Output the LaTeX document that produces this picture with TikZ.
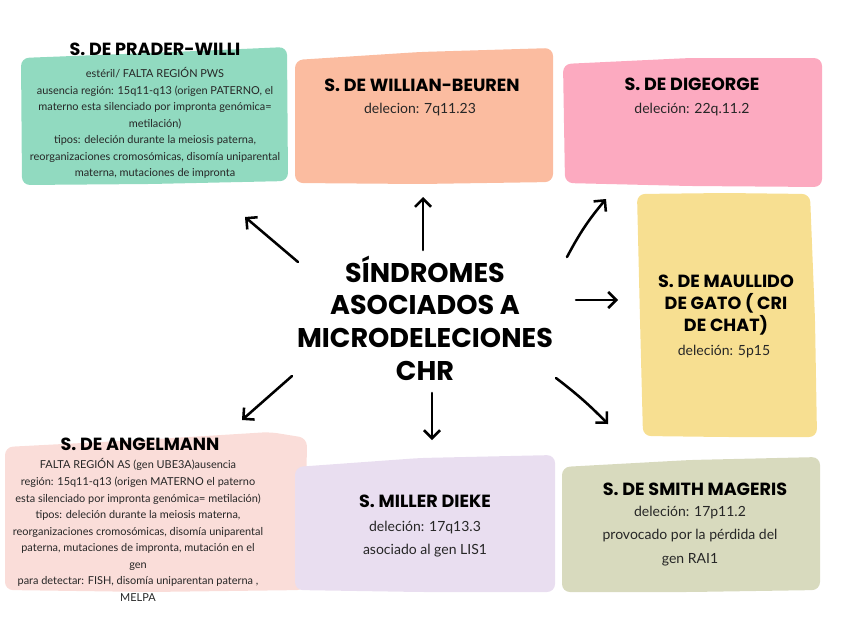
\documentclass[tikz,border=0pt]{standalone}
\usepackage{fontspec}
\setmainfont{Lato}
\newfontfamily\headfont{Poppins}
\usetikzlibrary{arrows.meta, positioning}
\definecolor{cmint}{RGB}{145,218,192}
\definecolor{csalmon}{RGB}{251,188,160}
\definecolor{cpink}{RGB}{252,170,192}
\definecolor{cyellow}{RGB}{247,223,145}
\definecolor{crose}{RGB}{250,221,217}
\definecolor{clilac}{RGB}{233,222,240}
\definecolor{csage}{RGB}{216,218,190}

\begin{document}
\begin{tikzpicture}[
    x=0.75pt, y=-0.75pt,
    >={Straight Barb[length=6pt,width=12pt]},
    blob/.style={fill=#1, draw=none, rounded corners=6pt},
    ttl/.style={font=\headfont\bfseries\fontsize{13.2}{16.2}\selectfont, align=center, text=black},
    hub/.style={font=\headfont\bfseries\fontsize{20.3}{24.5}\selectfont, align=center, text=black},
    small/.style={font=\fontsize{8.2}{12.4}\selectfont, align=center, text=black!85},
    info/.style={font=\fontsize{10.5}{17.5}\selectfont, align=center, text=black!85},
    arr/.style={->, line width=1.9pt, line cap=round, line join=round, draw=black}
]
\useasboundingbox (0,0) rectangle (848,636);

%% Coloured paper blobs
\fill[blob=cmint]    (21,58) -- (150,53) -- (287,47) -- (288,181) -- (150,184) -- (22,185) -- cycle;
\fill[blob=csalmon]  (295,60) -- (420,52) -- (553,48) -- (553,182) -- (420,184) -- (295,183) -- cycle;
\fill[blob=cpink]    (563,64) -- (690,58) -- (822,58) -- (822,187) -- (690,186) -- (565,183) -- cycle;
\fill[blob=cyellow]  (637,194) -- (725,193) -- (810,194) -- (815,320) -- (817,437) -- (725,437) -- (643,436) -- (640,320) -- cycle;
\fill[blob=crose]    (5,447) -- (140,440) -- (270,432) -- (307,438) -- (305,590) -- (150,592) -- (5,590) -- cycle;
\fill[blob=clilac]   (295,467) -- (420,458) -- (555,455) -- (555,592) -- (420,592) -- (295,590) -- cycle;
\fill[blob=csage]    (562,467) -- (690,460) -- (820,457) -- (820,590) -- (690,592) -- (562,592) -- cycle;

%% Central topic
\node[hub] (topic) at (425,318)
    {SÍNDROMES\\ ASOCIADOS A\\ MICRODELECIONES\\ CHR};

%% Prader-Willi
\node[ttl] (pw) at (155,49) {S. DE PRADER-WILLI};
\node[small] (pwtext) at (155,123)
    {estéril/ FALTA REGIÓN PWS\\
     ausencia región: 15q11-q13 (origen PATERNO, el\\
     materno esta silenciado por impronta genómica=\\
     metilación)\\
     tipos: deleción durante la meiosis paterna,\\
     reorganizaciones cromosómicas, disomía uniparental\\
     materna, mutaciones de impronta};

%% Willian-Beuren
\node[ttl] (wb) at (422,85) {S. DE WILLIAN-BEUREN};
\node[info] (wbtext) at (420,110) {delecion: 7q11.23};

%% DiGeorge
\node[ttl] (dg) at (692,84) {S. DE DIGEORGE};
\node[info] (dgtext) at (692,110) {deleción: 22q.11.2};

%% Cri du chat
\node[ttl] (cdc) at (726,305) {S. DE MAULLIDO\\ DE GATO ( CRI\\ DE CHAT)};
\node[info] (cdctext) at (724,352) {deleción: 5p15};

%% Angelman
\node[ttl] (as) at (140,444) {S. DE ANGELMANN};
\node[small] (astext) at (138,530)
    {FALTA REGIÓN AS (gen UBE3A)ausencia\\
     región: 15q11-q13 (origen MATERNO el paterno\\
     esta silenciado por impronta genómica= metilación)\\
     tipos: deleción durante la meiosis materna,\\
     reorganizaciones cromosómicas, disomía uniparental\\
     paterna, mutaciones de impronta, mutación en el\\
     gen\\
     para detectar: FISH, disomía uniparentan paterna ,\\
     MELPA};

%% Miller-Dieker
\node[ttl] (md) at (425,501) {S. MILLER DIEKE};
\node[info] (mdtext) at (425,539) {deleción: 17q13.3\\ asociado al gen LIS1};

%% Smith-Magenis
\node[ttl] (sm) at (695,489) {S. DE SMITH MAGERIS};
\node[info] (smtext) at (690,536) {deleción: 17p11.2\\ provocado por la pérdida del\\ gen RAI1};

%% Arrow ends
\coordinate (a1s) at (298,262); \coordinate (a1e) at (245,217);
\coordinate (a2s) at (423,250); \coordinate (a2e) at (423,197);
\coordinate (a3s) at (567,257); \coordinate (a3e) at (606,199);
\coordinate (a4s) at (576,300); \coordinate (a4e) at (618,300);
\coordinate (a5s) at (556,378); \coordinate (a5e) at (608,424);
\coordinate (a6s) at (432,393); \coordinate (a6e) at (432,440);
\coordinate (a7s) at (292,376); \coordinate (a7e) at (242,420);

%% Arrows from the topic outwards
\draw[arr] (a1s) -- (a1e);
\draw[arr] (a2s) -- (a2e);
\draw[arr] (a3s) to[bend left=6] (a3e);
\draw[arr] (a4s) -- (a4e);
\draw[arr] (a5s) to[bend left=4] (a5e);
\draw[arr] (a6s) -- (a6e);
\draw[arr] (a7s) -- (a7e);

\end{tikzpicture}
\end{document}
